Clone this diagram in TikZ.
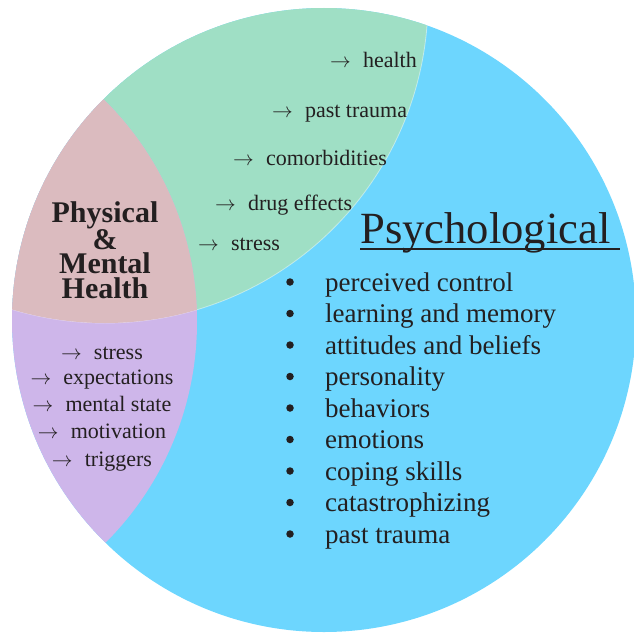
\documentclass[tikz,border=0pt]{standalone}
\usepackage{fontspec}
\setmainfont{Liberation Serif}
\usetikzlibrary{positioning}
\definecolor{cblue}{HTML}{6DD6FE}
\definecolor{cgreen}{HTML}{9FDFC5}
\definecolor{cred}{HTML}{DBBBBF}
\definecolor{cpurple}{HTML}{CEB6EA}
\definecolor{cink}{HTML}{231F20}
\tikzset{
  every picture/.style={text=cink},
  title/.style={font=\bfseries\fontsize{30}{24.5}\selectfont, align=center, inner sep=0pt},
  head/.style={font=\fontsize{44.6}{50}\selectfont, inner sep=0pt, anchor=base west},
  item/.style={font=\fontsize{27}{32}\selectfont, inner sep=0pt, anchor=base west},
  factor/.style={font=\fontsize{22}{26}\selectfont, inner sep=0pt, anchor=base west},
  dot/.style={circle, fill=cink, inner sep=0pt, minimum size=7.5pt},
}
\newcommand{\lead}{$\rightarrow$\hspace{0.55em}}

\begin{document}
\begin{tikzpicture}[x=1pt, y=-1pt]
  \useasboundingbox (0,0) rectangle (634,634);
  % three overlapping discs
  \fill[cblue] (324,320) circle (312pt);
  \begin{scope}
    \clip (324,320) circle (312pt);
    \fill[cgreen] (105,0) circle (323pt);
    \fill[cpurple] (-115,322) circle (312pt);
    \draw[white, opacity=0.45, line width=0.8pt] (105,0) circle (323pt);
    \clip (105,0) circle (323pt);
    \fill[cred] (-115,322) circle (312pt);
  \end{scope}
  % overlap of both
  \node[title] (pmh) at (105,250) {Physical\\\&\\Mental\\Health};
  % physical side
  \foreach \x/\y/\t [count=\i] in {330/67/health, 272/117/past trauma,
      233/165/comorbidities, 215/210/drug effects, 198/250/stress}
    \node[factor] (ph\i) at (\x,\y) {\lead\t};
  % mental side
  \foreach \y/\t [count=\i] in {359/stress, 384/expectations,
      411/mental state, 438/motivation, 466/triggers}
    \node[factor, anchor=base] (mh\i) at (102,\y) {\lead\t};
  % psychological list
  \node[head] (psy) at (360,243) {Psychological};
  \draw[cink, line width=2pt] ([yshift=-6pt]psy.base west) -- ([xshift=9pt, yshift=-6pt]psy.base east);
  \foreach \t [count=\i] in {perceived control, learning and memory,
      attitudes and beliefs, personality, behaviors, emotions,
      coping skills, catastrophizing, past trauma} {
    \node[item] (ps\i) at (325,259.5+31.5*\i) {\t};
    \node[dot] (pb\i) at (290,250.5+31.5*\i) {};
  }
\end{tikzpicture}
\end{document}
